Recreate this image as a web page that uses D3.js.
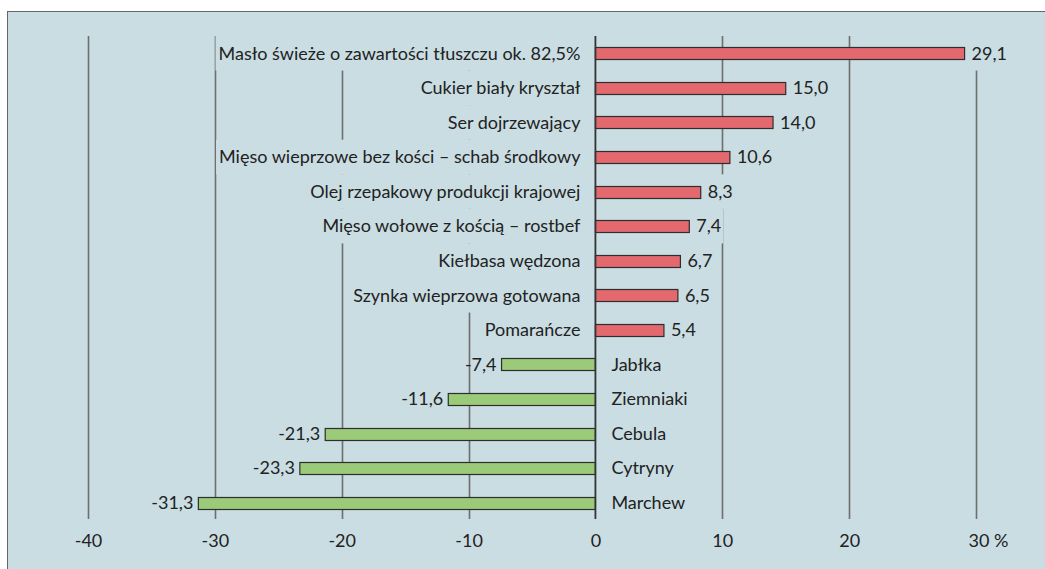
<!DOCTYPE html>
<html>
<head>
<meta charset="utf-8">
<script src="https://cdn.jsdelivr.net/npm/d3@7"></script>
<style>
  html, body { margin: 0; padding: 0; background: #fff; }
  svg { display: block; }
</style>
</head>
<body>
<div id="chart"></div>
<script>
// Data (percent change)
const categories = [
    "Masło świeże o zawartości tłuszczu ok. 82,5%",
    "Cukier biały kryształ",
    "Ser dojrzewający",
    "Mięso wieprzowe bez kości – schab środkowy",
    "Olej rzepakowy produkcji krajowej",
    "Mięso wołowe z kością – rostbef",
    "Kiełbasa wędzona",
    "Szynka wieprzowa gotowana",
    "Pomarańcze",
    "Jabłka",
    "Ziemniaki",
    "Cebula",
    "Cytryny",
    "Marchew"
];
const values = [29.1, 15.0, 14.0, 10.6, 8.3, 7.4, 6.7, 6.5, 5.4, -7.4, -11.6, -21.3, -23.3, -31.3];
const tickValues = [-40, -30, -20, -10, 0, 10, 20, 30];

const width = 1045, height = 569;
const bg = "#c9dde3";
const font = "Lato, 'Open Sans', sans-serif";
const fmt = v => v.toFixed(1).replace(".", ",");

const svg = d3.select("#chart").append("svg")
    .attr("width", width)
    .attr("height", height)
    .style("font-family", font);

// Panel
svg.append("rect")
    .attr("x", 7.5).attr("y", 11.5)
    .attr("width", width).attr("height", height)
    .attr("fill", bg)
    .attr("stroke", "#666")
    .attr("stroke-width", 1);

// Scales
const x = d3.scaleLinear().domain([-40, 30]).range([88, 976]);
const y = d3.scaleBand().domain(categories).range([36, 520]).padding(0);
const barH = 12;
const data = categories.map((c, i) => ({ c, v: values[i] }));

// Gridlines
svg.append("g")
    .selectAll("line")
    .data(tickValues.filter(t => t !== 0))
    .join("line")
    .attr("x1", d => Math.round(x(d)) + 0.5)
    .attr("x2", d => Math.round(x(d)) + 0.5)
    .attr("y1", 36).attr("y2", 519)
    .attr("stroke", "#6e6e6e")
    .attr("stroke-width", 1.6);

const fontSize = 18;

// Category labels with background boxes hiding the gridlines
const catG = svg.append("g")
    .attr("font-size", fontSize)
    .attr("fill", "#222");
const cat = catG.selectAll("g")
    .data(data)
    .join("g");
cat.append("text")
    .attr("x", d => d.v >= 0 ? x(0) - 15 : x(0) + 16)
    .attr("y", d => y(d.c) + y.bandwidth() / 2)
    .attr("dy", "0.35em")
    .attr("text-anchor", d => d.v >= 0 ? "end" : "start")
    .text(d => d.c);
cat.each(function () {
    const g = d3.select(this);
    const b = g.select("text").node().getBBox();
    const d = g.datum();
    g.insert("rect", "text")
        .attr("x", b.x - 3)
        .attr("width", b.width + 6)
        .attr("y", y(d.c))
        .attr("height", y.bandwidth())
        .attr("fill", bg);
});

// Positive value labels (boxed) and negative ones (plain)
const valG = svg.append("g")
    .attr("font-size", fontSize)
    .attr("fill", "#222");
const val = valG.selectAll("g")
    .data(data)
    .join("g");
val.append("text")
    .attr("x", d => d.v >= 0 ? x(d.v) + 7 : x(d.v) - 5)
    .attr("y", d => y(d.c) + y.bandwidth() / 2)
    .attr("dy", "0.35em")
    .attr("text-anchor", d => d.v >= 0 ? "start" : "end")
    .text(d => fmt(d.v));
val.filter(d => d.v >= 0).each(function () {
    const g = d3.select(this);
    const b = g.select("text").node().getBBox();
    const d = g.datum();
    g.insert("rect", "text")
        .attr("x", b.x - 2)
        .attr("width", b.width + 4)
        .attr("y", y(d.c))
        .attr("height", y.bandwidth())
        .attr("fill", bg);
});

// Bars
svg.append("g")
    .selectAll("rect")
    .data(data)
    .join("rect")
    .attr("x", d => Math.min(x(0), x(d.v)))
    .attr("width", d => Math.abs(x(d.v) - x(0)))
    .attr("y", d => Math.round(y(d.c) + y.bandwidth() / 2 - barH / 2) + 0.5)
    .attr("height", barH)
    .attr("fill", d => d.v >= 0 ? "#e4696f" : "#9bca78")
    .attr("stroke", "#2e2e2e")
    .attr("stroke-width", 1.2);

// Zero axis line
svg.append("line")
    .attr("x1", x(0)).attr("x2", x(0))
    .attr("y1", 36).attr("y2", 519)
    .attr("stroke", "#333")
    .attr("stroke-width", 1.8);

// X axis tick labels
const axis = svg.append("g")
    .attr("transform", "translate(0,530)")
    .call(d3.axisBottom(x)
        .tickValues(tickValues)
        .tickSize(0)
        .tickFormat(d => d === 30 ? "30 %" : d));
axis.select(".domain").remove();
axis.selectAll("text")
    .attr("font-family", font)
    .attr("font-size", fontSize)
    .attr("fill", "#222")
    .attr("dy", "0.35em")
    .attr("y", 11)
    .attr("dx", d => d === 30 ? 12 : 0);
</script>
</body>
</html>
